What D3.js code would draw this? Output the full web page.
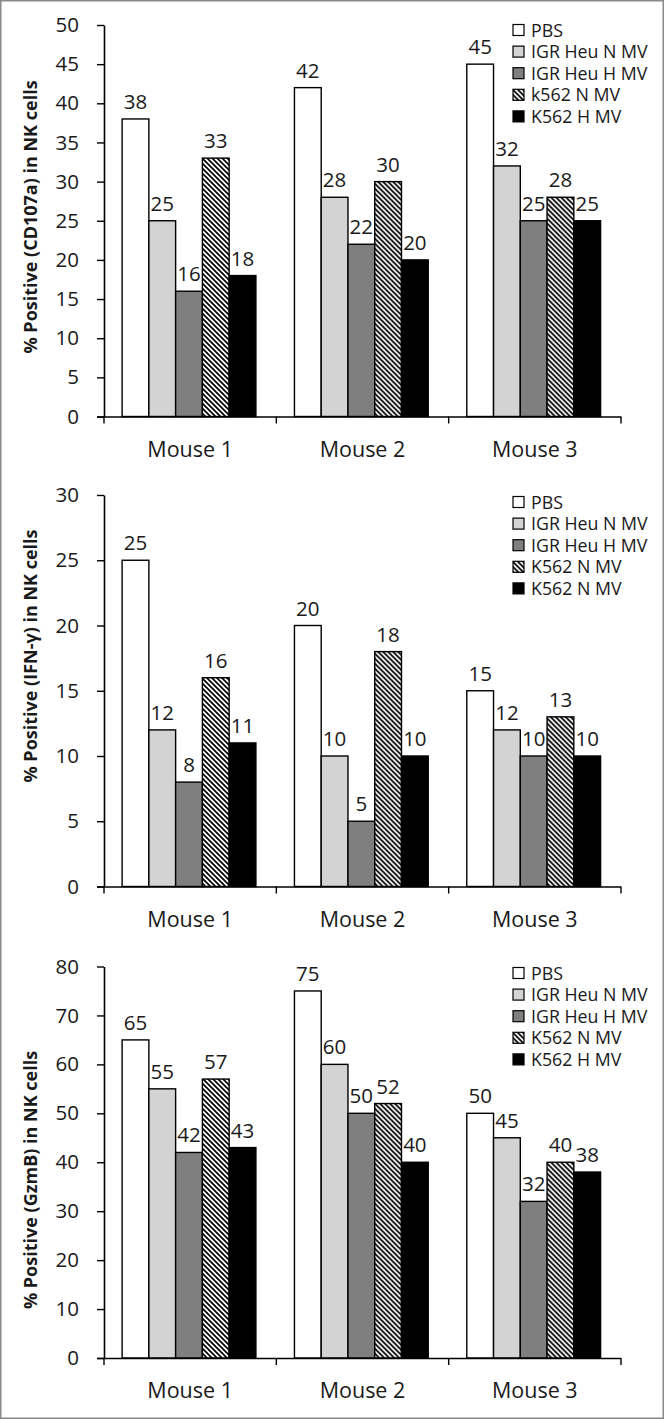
<!DOCTYPE html>
<html>
<head>
<meta charset="utf-8">
<script src="https://cdn.jsdelivr.net/npm/d3@7"></script>
<style>
  html, body { margin: 0; padding: 0; background: #fff; }
  svg { display: block; }
  text { font-family: "Open Sans", "Liberation Sans", sans-serif; fill: #1a1a1a; }
</style>
</head>
<body>
<script>
// ---------- data ----------
const categories = ["Mouse 1", "Mouse 2", "Mouse 3"];
const seriesKeys = ["PBS", "IGRN", "IGRH", "K562N", "K562H"];

const cd107aValues = [[38, 25, 16, 33, 18], [42, 28, 22, 30, 20], [45, 32, 25, 28, 25]];
const ifngValues   = [[25, 12, 8, 16, 11], [20, 10, 5, 18, 10], [15, 12, 10, 13, 10]];
const gzmbValues   = [[65, 55, 42, 57, 43], [75, 60, 50, 52, 40], [50, 45, 32, 40, 38]];

const cd107aLegend = ["PBS", "IGR Heu N MV", "IGR Heu H MV", "k562 N MV", "K562 H MV"];
const ifngLegend   = ["PBS", "IGR Heu N MV", "IGR Heu H MV", "K562 N MV", "K562 N MV"];
const gzmbLegend   = ["PBS", "IGR Heu N MV", "IGR Heu H MV", "K562 N MV", "K562 H MV"];

const cd107aTicks = [0, 5, 10, 15, 20, 25, 30, 35, 40, 45, 50];
const ifngTicks   = [0, 5, 10, 15, 20, 25, 30];
const gzmbTicks   = [0, 10, 20, 30, 40, 50, 60, 70, 80];

const cd107aTitle = "% Positive (CD107a) in NK cells";
const ifngTitle   = "% Positive (IFN-\u03B3) in NK cells";
const gzmbTitle   = "% Positive (GzmB) in NK cells";

// ---------- layout / style ----------
const W = 665, H = 1420;
const fills = { PBS: "#ffffff", IGRN: "#d3d3d3", IGRH: "#7f7f7f", K562N: "url(#hatch)", K562H: "#000000" };

const panels = [
  { values: cd107aValues, legend: cd107aLegend, ticks: cd107aTicks, title: cd107aTitle,
    top: 25, bottom: 416.5, titleY: 217, legendY: 30 },
  { values: ifngValues, legend: ifngLegend, ticks: ifngTicks, title: ifngTitle,
    top: 495, bottom: 886.5, titleY: 656, legendY: 502 },
  { values: gzmbValues, legend: gzmbLegend, ticks: gzmbTicks, title: gzmbTitle,
    top: 966.5, bottom: 1358, titleY: 1180, legendY: 973 }
];

const axisLeft = 104, axisRight = 621;

const svg = d3.select("body").append("svg").attr("width", W).attr("height", H);

const defs = svg.append("defs");
const pat = defs.append("pattern").attr("id", "hatch").attr("patternUnits", "userSpaceOnUse")
  .attr("width", 5).attr("height", 5);
pat.append("rect").attr("width", 5).attr("height", 5).attr("fill", "#fff");
pat.append("path").attr("d", "M-1,-1 L6,6 M-1,4 L1,6 M4,-1 L6,1")
  .attr("stroke", "#000").attr("stroke-width", 1.7);

// outer frame
svg.append("rect").attr("x", 0.75).attr("y", 0.75).attr("width", W - 2.5).attr("height", H - 2.5)
  .attr("fill", "none").attr("stroke", "#8a8a8a").attr("stroke-width", 1.5);

panels.forEach(p => {
  const g = svg.append("g");
  const yMax = p.ticks[p.ticks.length - 1];
  const y = d3.scaleLinear().domain([0, yMax]).range([p.bottom, p.top]);
  const x0 = d3.scaleBand().domain(categories).range([axisLeft, axisRight]).padding(0);
  const x1 = d3.scaleBand().domain(seriesKeys).range([0, x0.bandwidth()])
    .paddingInner(0).paddingOuter(0.72).align(0.47);

  // bars
  categories.forEach((c, ci) => {
    const gg = g.append("g").attr("transform", `translate(${x0(c)},0)`);
    const rows = seriesKeys.map((k, si) => ({ k, v: p.values[ci][si] }));
    gg.selectAll("rect").data(rows).join("rect")
      .attr("x", d => x1(d.k))
      .attr("y", d => y(d.v))
      .attr("width", x1.bandwidth())
      .attr("height", d => y(0) - y(d.v))
      .attr("fill", d => fills[d.k])
      .attr("stroke", "#000").attr("stroke-width", 1.4);
    gg.selectAll("text.val").data(rows).join("text").attr("class", "val")
      .attr("x", d => x1(d.k) + x1.bandwidth() / 2)
      .attr("y", d => y(d.v) - 10)
      .attr("text-anchor", "middle")
      .attr("font-size", 20.5)
      .text(d => d.v);
  });

  // y axis
  const ya = g.append("g").attr("transform", `translate(${axisLeft},0)`)
    .call(d3.axisLeft(y).tickValues(p.ticks).tickSize(7).tickPadding(18).tickSizeOuter(0));
  ya.select(".domain").attr("stroke", "#000").attr("stroke-width", 1.6);
  ya.selectAll(".tick line").attr("stroke", "#000").attr("stroke-width", 1.4);
  ya.selectAll(".tick text").attr("font-size", 20.5).attr("font-family", null).attr("fill", "#1a1a1a");

  // x axis
  const xa = g.append("g").attr("transform", `translate(0,${p.bottom})`)
    .call(d3.axisBottom(x0).tickSize(0).tickPadding(25));
  xa.select(".domain").attr("stroke", "#000").attr("stroke-width", 1.6)
    .attr("d", `M${axisLeft - 7},0.5H${axisRight}`);
  xa.selectAll(".tick text").attr("font-size", 21.5).attr("font-family", null).attr("fill", "#1a1a1a");
  const bounds = categories.map(c => x0(c)).concat([x0(categories[2]) + x0.bandwidth()]);
  xa.selectAll("line.sep").data(bounds).join("line").attr("class", "sep")
    .attr("x1", d => d).attr("x2", d => d).attr("y1", 0).attr("y2", 7)
    .attr("stroke", "#000").attr("stroke-width", 1.4);

  // y title
  g.append("text")
    .attr("transform", `translate(30,${p.titleY}) rotate(-90)`)
    .attr("text-anchor", "middle").attr("dominant-baseline", "central")
    .attr("font-size", 18).attr("font-weight", "bold")
    .text(p.title);

  // legend
  const lg = g.append("g").attr("transform", `translate(513,${p.legendY})`);
  p.legend.forEach((lab, i) => {
    const row = lg.append("g").attr("transform", `translate(0,${i * 21.6})`);
    row.append("rect").attr("x", 0).attr("y", -5.5).attr("width", 11).attr("height", 11)
      .attr("fill", fills[seriesKeys[i]]).attr("stroke", "#000").attr("stroke-width", 1.2);
    row.append("text").attr("x", 18).attr("y", 6.5)
      .attr("font-family", "'Liberation Sans', Arial, sans-serif")
      .attr("font-size", 17.8).text(lab);
  });
});
</script>
</body>
</html>
